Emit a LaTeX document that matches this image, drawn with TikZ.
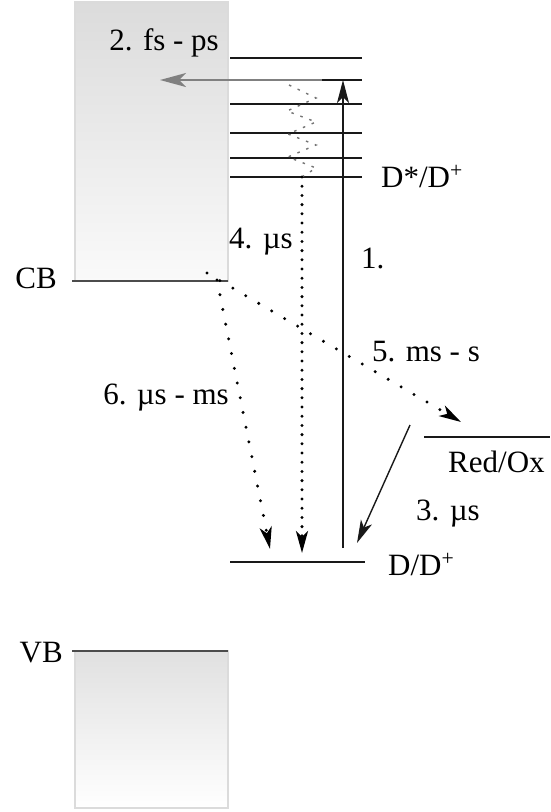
\documentclass[tikz,border=0pt]{standalone}
\usepackage{fontspec}
\setmainfont{Liberation Serif}
\usetikzlibrary{arrows.meta}

\begin{document}
\begin{tikzpicture}[x=1pt,y=-1pt,
	band/.style={draw=black!14, line width=1.5pt, top color=black!14, bottom color=black!2},
	band edge/.style={line width=2.4pt, black!70},
	level/.style={line width=1.5pt, black!90},
	lbl/.style={font=\fontsize{31}{36}\selectfont, inner sep=0pt},
	dotted arrow/.style={line width=3.3pt, line cap=round, dash pattern=on 0pt off 15pt,
		-{Stealth[length=22pt, width=12pt, inset=6pt]}},
	solid arrow/.style={line width=1.4pt, black!90, -{Stealth[length=23pt, width=12pt, inset=6pt]}}]
	\useasboundingbox (0,0) rectangle (550,812);
	
	% Bands
	\draw[band] (75,2) rectangle (228,281);
	\draw[band, top color=black!12, bottom color=white] (75,651) rectangle (228,808);
	\coordinate (cbL) at (72,281);
	\coordinate (cbR) at (228,281);
	\coordinate (vbL) at (72,651);
	\coordinate (vbR) at (228,651);
	\draw[band edge] (cbL) -- (cbR);
	\draw[band edge] (vbL) -- (vbR);
	\node[lbl, anchor=base east] (cb) at (57,288) {CB};
	\node[lbl, anchor=base east] (vb) at (63,662) {VB};
	
	% Excited levels of the dye
	\foreach \y [count=\i] in {58,80,104,133,158,177} {
		\coordinate (lvL\i) at (230,\y);
		\coordinate (lvR\i) at (362,\y);
		\draw[level] (lvL\i) -- (lvR\i);
	}
	\node[lbl, anchor=base west] (excited) at (381,187) {D*/D\textsuperscript{+}};
	
	% Ground level and redox level
	\coordinate (gsL) at (230,562);
	\coordinate (gsR) at (365,562);
	\draw[level] (gsL) -- (gsR);
	\node[lbl, anchor=base west] (ground) at (388,575) {D/D\textsuperscript{+}};
	\coordinate (redL) at (424,437);
	\coordinate (redR) at (550,437);
	\draw[level] (redL) -- (redR);
	\node[lbl, anchor=base west] (redox) at (448,472) {Red/Ox};
	
	% 1. excitation
	\coordinate (exFrom) at (343,548);
	\coordinate (exTo) at (343,80);
	\draw[solid arrow] (exFrom) -- (exTo);
	\node[lbl, anchor=base west] (l1) at (361,268) {1.};
	
	% 2. injection
	\coordinate (injFrom) at (322,80);
	\coordinate (injTo) at (160,80);
	\draw[line width=2pt, black!50, -{Stealth[length=26pt, width=14pt, inset=7pt]}] (injFrom) -- (injTo);
	\node[lbl, anchor=base east] (l2) at (219,50) {2. fs - ps};
	
	% 3. regeneration
	\coordinate (regFrom) at (410,425);
	\coordinate (regTo) at (357,543);
	\draw[solid arrow] (regFrom) -- (regTo);
	\node[lbl, anchor=base west] (l3) at (416,520) {3. µs};
	
	% 4. relaxation, then decay
	\coordinate (relTop) at (289,85);
	\coordinate (relBot) at (302,177);
	\coordinate (decTo) at (302,553);
	\draw[black!55, line width=1.4pt, dash pattern=on 2.5pt off 7pt]
		(relTop) -- (316,98) -- (287,111) -- (316,122) -- (288,134) -- (316,145)
		-- (288,157) -- (316,168) -- (relBot);
	\draw[dotted arrow, dash pattern=on 0pt off 9.2pt] (relBot) -- (decTo);
	\node[lbl, anchor=base west] (l4) at (229,248) {4. µs};
	
	% 5. and 6. recombination
	\coordinate (rec5From) at (207,273);
	\coordinate (rec5To) at (461,422);
	\coordinate (rec6From) at (217,280);
	\coordinate (rec6To) at (270,549);
	\draw[dotted arrow] (rec5From) -- (rec5To);
	\draw[dotted arrow] (rec6From) -- (rec6To);
	\node[lbl, anchor=base west] (l5) at (372,361) {5. ms - s};
	\node[lbl, anchor=base east] (l6) at (229,404) {6. µs - ms};
\end{tikzpicture}
\end{document}
